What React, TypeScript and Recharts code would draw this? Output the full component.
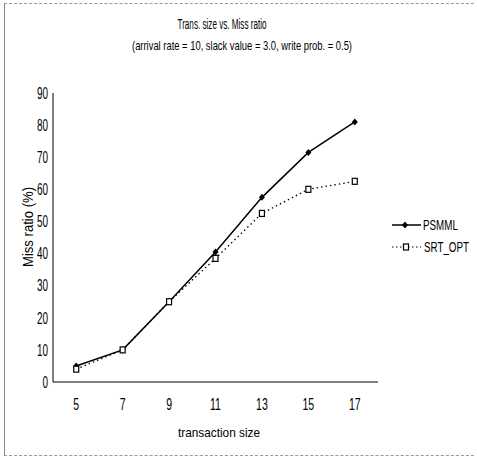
import React from 'react';
import { LineChart, Line, XAxis, YAxis, Label } from 'recharts';

const sizes = [5, 7, 9, 11, 13, 15, 17];
const psmml = [5, 10, 25, 40.5, 57.5, 71.5, 81];
const srtOpt = [4, 10, 25, 38.5, 52.5, 60, 62.5];
const yTicks = [0, 10, 20, 30, 40, 50, 60, 70, 80, 90];

const data = sizes.map((s, i) => ({ size: s, psmml: psmml[i], srt: srtOpt[i] }));

const FONT = '"Liberation Sans", Arial, sans-serif';

const Diamond = (props: any) => {
  const { cx, cy } = props;
  if (cx == null || cy == null) return null;
  return <path d={`M${cx},${cy - 3.5}L${cx + 3},${cy}L${cx},${cy + 3.5}L${cx - 3},${cy}Z`} fill="#000" />;
};

const Square = (props: any) => {
  const { cx, cy } = props;
  if (cx == null || cy == null) return null;
  return <rect x={cx - 2.5} y={cy - 3} width={5} height={6} fill="#fff" stroke="#000" strokeWidth={1.2} />;
};

// narrow, squeezed tick text like the scanned figure
const XTick = (props: any) => {
  const { x, y, payload } = props;
  return (
    <text transform={`translate(${x},${y}) scale(0.62,1)`} textAnchor="middle" dy="0.72em" fontSize={17} fontFamily={FONT} fill="#000">
      {payload.value}
    </text>
  );
};

const YTick = (props: any) => {
  const { x, y, payload } = props;
  return (
    <text transform={`translate(${x},${y}) scale(0.62,1)`} textAnchor="end" dy="0.36em" fontSize={16} fontFamily={FONT} fill="#000">
      {payload.value}
    </text>
  );
};

const Overlay = () => (
  <svg width={477} height={458} style={{ position: 'absolute', left: 0, top: 0, pointerEvents: 'none' }}>
    <text x={222} y={29} textAnchor="middle" fontSize={14} fontFamily={FONT} textLength={89} lengthAdjust="spacingAndGlyphs">
      Trans. size vs. Miss ratio
    </text>
    <text x={242} y={50} textAnchor="middle" fontSize={13} fontFamily={FONT} textLength={220} lengthAdjust="spacingAndGlyphs">
      (arrival rate = 10, slack value = 3.0, write prob. = 0.5)
    </text>
    <line x1={392} y1={225} x2={421} y2={225} stroke="#000" strokeWidth={1.5} />
    <Diamond cx={405} cy={225} />
    <text transform="translate(423,230) scale(0.7,1)" fontSize={14} fontFamily={FONT}>PSMML</text>
    <line x1={392} y1={247} x2={421} y2={247} stroke="#000" strokeWidth={1.2} strokeDasharray="1.5 2.5" />
    <Square cx={406} cy={247} />
    <text transform="translate(424,252) scale(0.7,1)" fontSize={14} fontFamily={FONT}>SRT_OPT</text>
  </svg>
);

export default function App() {
  return (
    <div style={{ position: 'absolute', left: 0, top: 0, width: 477, height: 458, background: '#fff' }}>
      <div style={{ position: 'absolute', left: 4, top: 3, width: 469, height: 451, borderLeft: '1.5px solid #888', borderTop: '1px dashed #999', borderBottom: '1px dashed #999' }} />
      <LineChart width={477} height={458} data={data} margin={{ top: 93, right: 99, bottom: 0, left: 0 }}>
        <XAxis
          dataKey="size"
          type="number"
          domain={[4, 18]}
          ticks={sizes}
          stroke="#000"
          tickLine={false}
          tickSize={0}
          tickMargin={16}
          height={76}
          tick={<XTick />}
        >
          <Label
            content={() => (
              <text x={219} y={437} textAnchor="middle" fontSize={13} fontFamily={FONT} fill="#000" textLength={82} lengthAdjust="spacingAndGlyphs">
                transaction size
              </text>
            )}
          />
        </XAxis>
        <YAxis
          domain={[0, 90]}
          ticks={yTicks}
          width={53}
          stroke="#000"
          tickLine={false}
          tickSize={0}
          tickMargin={5}
          tick={<YTick />}
        >
          <Label
            content={() => (
              <text x={27} y={227} transform="rotate(-90 27 227)" textAnchor="middle" dominantBaseline="central" fontSize={15} fontFamily={FONT} fill="#000" textLength={80} lengthAdjust="spacingAndGlyphs">
                Miss ratio (%)
              </text>
            )}
          />
        </YAxis>
        <Line dataKey="psmml" name="PSMML" type="linear" stroke="#000" strokeWidth={1.5} dot={<Diamond />} activeDot={false} isAnimationActive={false} />
        <Line dataKey="srt" name="SRT_OPT" type="linear" stroke="#000" strokeWidth={1.3} strokeDasharray="1.5 3" dot={<Square />} activeDot={false} isAnimationActive={false} />
      </LineChart>
      <Overlay />
    </div>
  );
}
